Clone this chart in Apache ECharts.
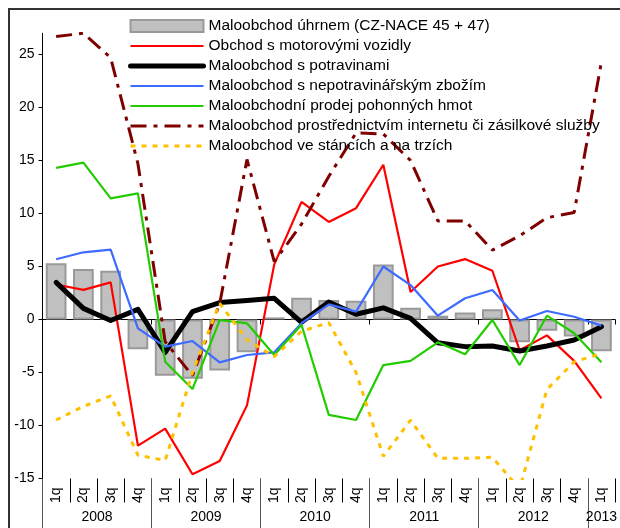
<!DOCTYPE html>
<html>
<head>
<meta charset="utf-8">
<script src="https://cdn.jsdelivr.net/npm/echarts@6/dist/echarts.min.js"></script>
<style>
html,body{margin:0;padding:0;background:#fff;}
#chart{width:620px;height:528px;}
</style>
</head>
<body>
<div id="chart"></div>
<script>
// ---- data ----
var quarters = ['1q','2q','3q','4q','1q','2q','3q','4q','1q','2q','3q','4q','1q','2q','3q','4q','1q','2q','3q','4q','1q'];
var years = ['2008','2009','2010','2011','2012','2013'];
var yearLabelIndex = [4, 12, 20, 28, 36, 41]; // positions on the half-quarter year axis
var seriesNames = [
  'Maloobchod úhrnem (CZ-NACE 45 + 47)',
  'Obchod s motorovými vozidly',
  'Maloobchod s potravinami',
  'Maloobchod s nepotravinářským zbožím',
  'Maloobchodní prodej pohonných hmot',
  'Maloobchod prostřednictvím internetu či zásilkové služby',
  'Maloobchod ve stáncích a na trzích'
];
var total    = [5.3, 4.76, 4.6, -2.8, -5.3, -5.6, -4.8, -3.1, 0.2, 2.05, 1.84, 1.78, 5.2, 1.1, 0.36, 0.65, 0.96, -2.15, -1.05, -1.6, -3.0];
var motor    = [3.3, 2.8, 3.5, -11.9, -10.3, -14.6, -13.35, -8.1, 5.2, 11.1, 9.2, 10.5, 14.6, 2.6, 5.0, 5.7, 4.6, -2.9, -1.5, -3.9, -7.45];
var food     = [3.5, 1.05, -0.1, 0.96, -3.1, 0.74, 1.6, 1.8, 2.0, -0.27, 1.65, 0.5, 1.1, 0.1, -2.2, -2.56, -2.5, -2.97, -2.5, -1.93, -0.68];
var nonfood  = [5.68, 6.34, 6.6, -0.83, -2.56, -2.03, -4.04, -3.35, -3.1, -0.35, 1.43, 0.74, 5.0, 3.25, 0.36, 2.0, 2.78, -0.1, 0.8, 0.26, -0.58];
var fuel     = [14.3, 14.8, 11.43, 11.9, -3.98, -6.56, -0.05, -0.36, -3.35, -0.5, -9.0, -9.48, -4.3, -3.9, -2.15, -3.28, -0.05, -4.3, 0.36, -1.3, -4.04];
var internet = [26.7, 27.0, 24.7, 14.7, -2.1, -5.3, 1.5, 15.1, 5.45, 9.0, 13.5, 17.6, 17.5, 15.0, 9.3, 9.3, 6.55, 7.9, 9.6, 10.1, 24.3];
var stalls   = [-9.48, -8.2, -7.2, -12.8, -13.3, -5.0, 1.53, -1.93, -3.5, -1.1, -0.3, -5.0, -12.9, -9.5, -13.1, -13.1, -13.0, -16.0, -6.6, -4.0, -3.2];
var yTicks = [-15, -10, -5, 0, 5, 10, 15, 20, 25];

// ---- build ----
var halfSteps = [];
for (var i = 0; i < quarters.length * 2 + 1; i++) halfSteps.push('h' + i);
function yearFor(idx) {
  var k = yearLabelIndex.indexOf(idx);
  return k >= 0 ? years[k] : '';
}
var FONT = '"Liberation Sans", Arial, sans-serif';

var lineStyles = [
  null,
  {color: '#ff0000', width: 2.2, type: 'solid'},
  {color: '#000000', width: 5, type: 'solid', cap: 'round', join: 'round'},
  {color: '#3d6bff', width: 2.2, type: 'solid'},
  {color: '#22cc00', width: 2.2, type: 'solid'},
  {color: '#800000', width: 3, type: [16, 7, 4, 7]},
  {color: '#ffc000', width: 3, type: [5, 6]}
];

var chart = echarts.init(document.getElementById('chart'), null, {renderer: 'canvas'});
var legendData = [{name: seriesNames[0], icon: 'rect'}];
var series = [{
  name: seriesNames[0], type: 'bar', xAxisIndex: 0, data: total, barWidth: '76%',
  itemStyle: {color: '#c0c0c0', borderColor: '#999999', borderWidth: 2}
}];
var lineData = [null, motor, food, nonfood, fuel, internet, stalls];
for (var j = 1; j < seriesNames.length; j++) {
  legendData.push({name: seriesNames[j], itemStyle: {opacity: 0}, lineStyle: Object.assign({}, lineStyles[j])});
  series.push({
    name: seriesNames[j], type: 'line', xAxisIndex: 0, data: lineData[j], symbol: 'none',
    lineStyle: lineStyles[j], itemStyle: {color: lineStyles[j].color}
  });
}

var option = {
  animation: false,
  backgroundColor: '#fff',
  textStyle: {fontFamily: FONT},
  graphic: [{
    type: 'rect', z: 100, silent: true,
    shape: {x: 9, y: 9, width: 640, height: 560},
    style: {fill: null, stroke: '#333', lineWidth: 2}
  }],
  legend: {
    orient: 'vertical', left: 128, top: 18, padding: 0,
    itemWidth: 73, itemHeight: 12, itemGap: 4,
    textStyle: {fontSize: 15.5, color: '#000', fontFamily: FONT},
    data: legendData
  },
  grid: {left: 42.5, right: 0, top: 33.3, bottom: 49.5, containLabel: false},
  xAxis: [
    {
      type: 'category', data: quarters, position: 'bottom',
      axisLine: {onZero: true, lineStyle: {color: '#000', width: 1}},
      axisTick: {show: true, length: 5, inside: false, interval: function (i) { return i % 4 === 0; }, lineStyle: {color: '#000'}},
      axisLabel: {show: false}, splitLine: {show: false}
    },
    {
      type: 'category', data: quarters, position: 'bottom',
      axisLine: {show: false, onZero: false},
      axisTick: {show: true, length: 24, interval: 0, lineStyle: {color: '#000'}},
      axisLabel: {show: true, interval: 0, rotate: 90, margin: 9, fontSize: 14, color: '#000', fontFamily: FONT},
      splitLine: {show: false}
    },
    {
      type: 'category', data: halfSteps, position: 'bottom', boundaryGap: false,
      axisLine: {show: false, onZero: false},
      axisTick: {show: true, length: 52, interval: function (i) { return i % 8 === 0; }, lineStyle: {color: '#555'}},
      axisLabel: {show: true, interval: 0, margin: 32, fontSize: 14, color: '#000', fontFamily: FONT,
        formatter: function (v, idx) { return yearFor(idx); }},
      splitLine: {show: false}
    }
  ],
  yAxis: {
    type: 'value', min: -15, max: 27, interval: 5,
    axisLine: {show: true, lineStyle: {color: '#000', width: 1}},
    axisTick: {show: true, length: 4, customValues: yTicks, lineStyle: {color: '#000'}},
    axisLabel: {fontSize: 14, color: '#000', margin: 8, customValues: yTicks, fontFamily: FONT},
    splitLine: {show: false}
  },
  series: series
};
chart.setOption(option);
</script>
</body>
</html>
